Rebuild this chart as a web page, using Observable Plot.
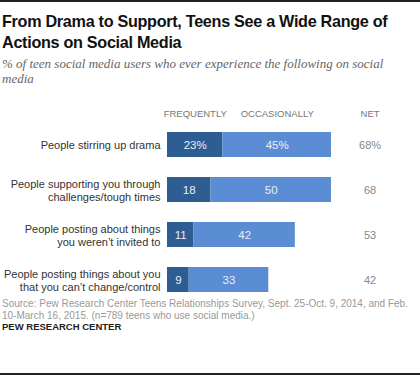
<!DOCTYPE html>
<html>
<head>
<meta charset="utf-8">
<script src="https://cdn.jsdelivr.net/npm/d3@7"></script>
<script src="https://cdn.jsdelivr.net/npm/@observablehq/plot@0.6"></script>
<style>
  html, body { margin: 0; padding: 0; background: #fff; }
  body { width: 420px; height: 376px; position: relative; overflow: hidden; font-family: "Liberation Sans", Arial, sans-serif; }
  .topline { position: absolute; left: 0; top: 0; width: 420px; height: 2px; background: #222; }
  .botline { position: absolute; left: 0; top: 373px; width: 420px; height: 2px; background: #222; }
  .title { position: absolute; left: 2px; top: 11px; font-size: 16.2px; letter-spacing: -0.3px; line-height: 21px; font-weight: bold; color: #111; white-space: nowrap; }
  .subtitle { position: absolute; left: 2px; top: 56px; font-family: "Liberation Serif", Georgia, serif; font-style: italic; font-size: 13px; line-height: 15px; color: #666; white-space: nowrap; }
  #chart { position: absolute; left: 0; top: 96px; }
  .source { position: absolute; left: 2px; top: 298px; font-size: 10px; line-height: 12px; color: #999; white-space: nowrap; }
  .pew { position: absolute; left: 2px; top: 321px; font-size: 9.5px; line-height: 12px; font-weight: bold; color: #222; white-space: nowrap; }
</style>
</head>
<body>
<div class="topline"></div>
<div class="title">From Drama to Support, Teens See a Wide Range of<br>Actions on Social Media</div>
<div class="subtitle">% of teen social media users who ever experience the following on social<br>media</div>
<div id="chart"></div>
<div class="source">Source: Pew Research Center Teens Relationships Survey, Sept. 25-Oct. 9, 2014, and Feb.<br>10-March 16, 2015. (n=789 teens who use social media.)</div>
<div class="pew">PEW RESEARCH CENTER</div>
<div class="botline"></div>
<script>
const categories = [
  "People stirring up drama",
  "People supporting you through challenges/tough times",
  "People posting about things you weren't invited to",
  "People posting things about you that you can't change/control"
];
const categoryLabels = [
  "People stirring up drama",
  "People supporting you through\nchallenges/tough times",
  "People posting about things\nyou weren\u2019t invited to",
  "People posting things about you\nthat you can\u2019t change/control"
];
const seriesNames = ["Frequently", "Occasionally"];
const headerLabels = ["FREQUENTLY", "OCCASIONALLY", "NET"];
const frequently = [23, 18, 11, 9];
const occasionally = [45, 50, 42, 33];
const net = [68, 68, 53, 42];

const dark = "#2d5d92";
const light = "#5b8dd4";

const rows = categories.flatMap((c, i) => [
  {cat: c, series: seriesNames[0], value: frequently[i], label: i === 0 ? frequently[i] + "%" : String(frequently[i])},
  {cat: c, series: seriesNames[1], value: occasionally[i], label: i === 0 ? occasionally[i] + "%" : String(occasionally[i])}
]);
const labelRows = categories.map((c, i) => ({cat: c, label: categoryLabels[i]}));
const netRows = categories.map((c, i) => ({cat: c, label: i === 0 ? net[i] + "%" : String(net[i])}));

const netX = 84;
const headerRows = [
  {x: frequently[0] / 2, label: headerLabels[0]},
  {x: frequently[0] + occasionally[0] / 2, label: headerLabels[1]},
  {x: netX, label: headerLabels[2]}
];
const tickRows = headerRows.slice(0, 2);

const font = "Liberation Sans, Arial, sans-serif";

const chart = Plot.plot({
  width: 420,
  height: 200,
  margin: 0,
  style: {fontFamily: font, background: "transparent"},
  x: {domain: [0, 68], range: [167, 331], axis: null},
  y: {domain: categories, range: [35, 197.1], paddingInner: 0.453, paddingOuter: 0, axis: null},
  color: {domain: seriesNames, range: [dark, light]},
  marks: [
    Plot.barX(rows, {x: "value", y: "cat", fill: "series"}),
    Plot.text(rows, Plot.stackX({x: "value", y: "cat", z: "series", text: "label", fill: "#e8eef8", fontSize: 11.5})),
    Plot.text(labelRows, {x: 0, y: "cat", text: "label", textAnchor: "end", dx: -7, fill: "#333", fontSize: 11, lineHeight: 1.22}),
    Plot.text(netRows, {x: netX, y: "cat", text: "label", fill: "#888", fontSize: 11}),
    Plot.text(headerRows, {x: "x", y: () => categories[0], text: "label", fill: "#777", fontSize: 9.5, dy: -31.5}),
    Plot.ruleX(tickRows, {x: "x", y: () => categories[0], stroke: "#777", strokeWidth: 1, insetBottom: 16, dy: -9.3})
  ]
});
document.getElementById("chart").appendChild(chart);
</script>
</body>
</html>
